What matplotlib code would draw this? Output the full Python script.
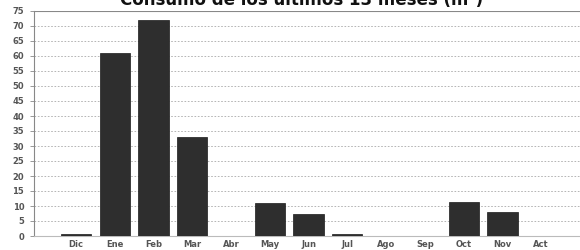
import matplotlib
matplotlib.use('Agg')
import matplotlib.pyplot as plt

months = ['Dic', 'Ene', 'Feb', 'Mar', 'Abr', 'May', 'Jun', 'Jul', 'Ago', 'Sep', 'Oct', 'Nov', 'Act']
consumo = [0.8, 61, 72, 33, 0, 11, 7.5, 0.8, 0, 0, 11.5, 8, 0]
y_ticks = list(range(0, 80, 5))

fig = plt.figure(figsize=(5.8, 2.5), dpi=100)
ax = fig.add_axes([0.0586, 0.056, 0.9414, 0.9])

x = list(range(len(months)))
ax.bar(x, consumo, width=0.78, color='#2e2e2e', edgecolor='#1a1a1a', linewidth=0.5, zorder=3)

ax.set_xlim(-1.08, 13.0)
ax.set_ylim(0, 75)
ax.set_xticks(x)
ax.set_xticklabels(months)
ax.set_yticks(y_ticks)

for lbl in ax.get_xticklabels() + ax.get_yticklabels():
    lbl.set_fontsize(6)
    lbl.set_fontweight('bold')
    lbl.set_color('#555555')

ax.tick_params(axis='x', length=0, pad=3)
ax.tick_params(axis='y', length=3, width=0.6, color='#888888', pad=4)

ax.yaxis.grid(True, linestyle=(0, (2, 2)), color='#aaaaaa', linewidth=0.6, zorder=0)
ax.axhline(75, color='#888888', linewidth=0.8)
for side in ['top', 'right']:
    ax.spines[side].set_visible(False)
ax.spines['left'].set_color('#888888')
ax.spines['bottom'].set_color('#bbbbbb')

ax.set_xlabel('MES', fontsize=6, fontweight='bold', color='#555555', labelpad=1)

fig.text(0.52, 0.965, 'Consumo de los últimos 13 meses (m³)', ha='center', va='bottom',
         fontsize=12, fontweight='bold', color='#111111')

fig.savefig('out.png', dpi=100)
